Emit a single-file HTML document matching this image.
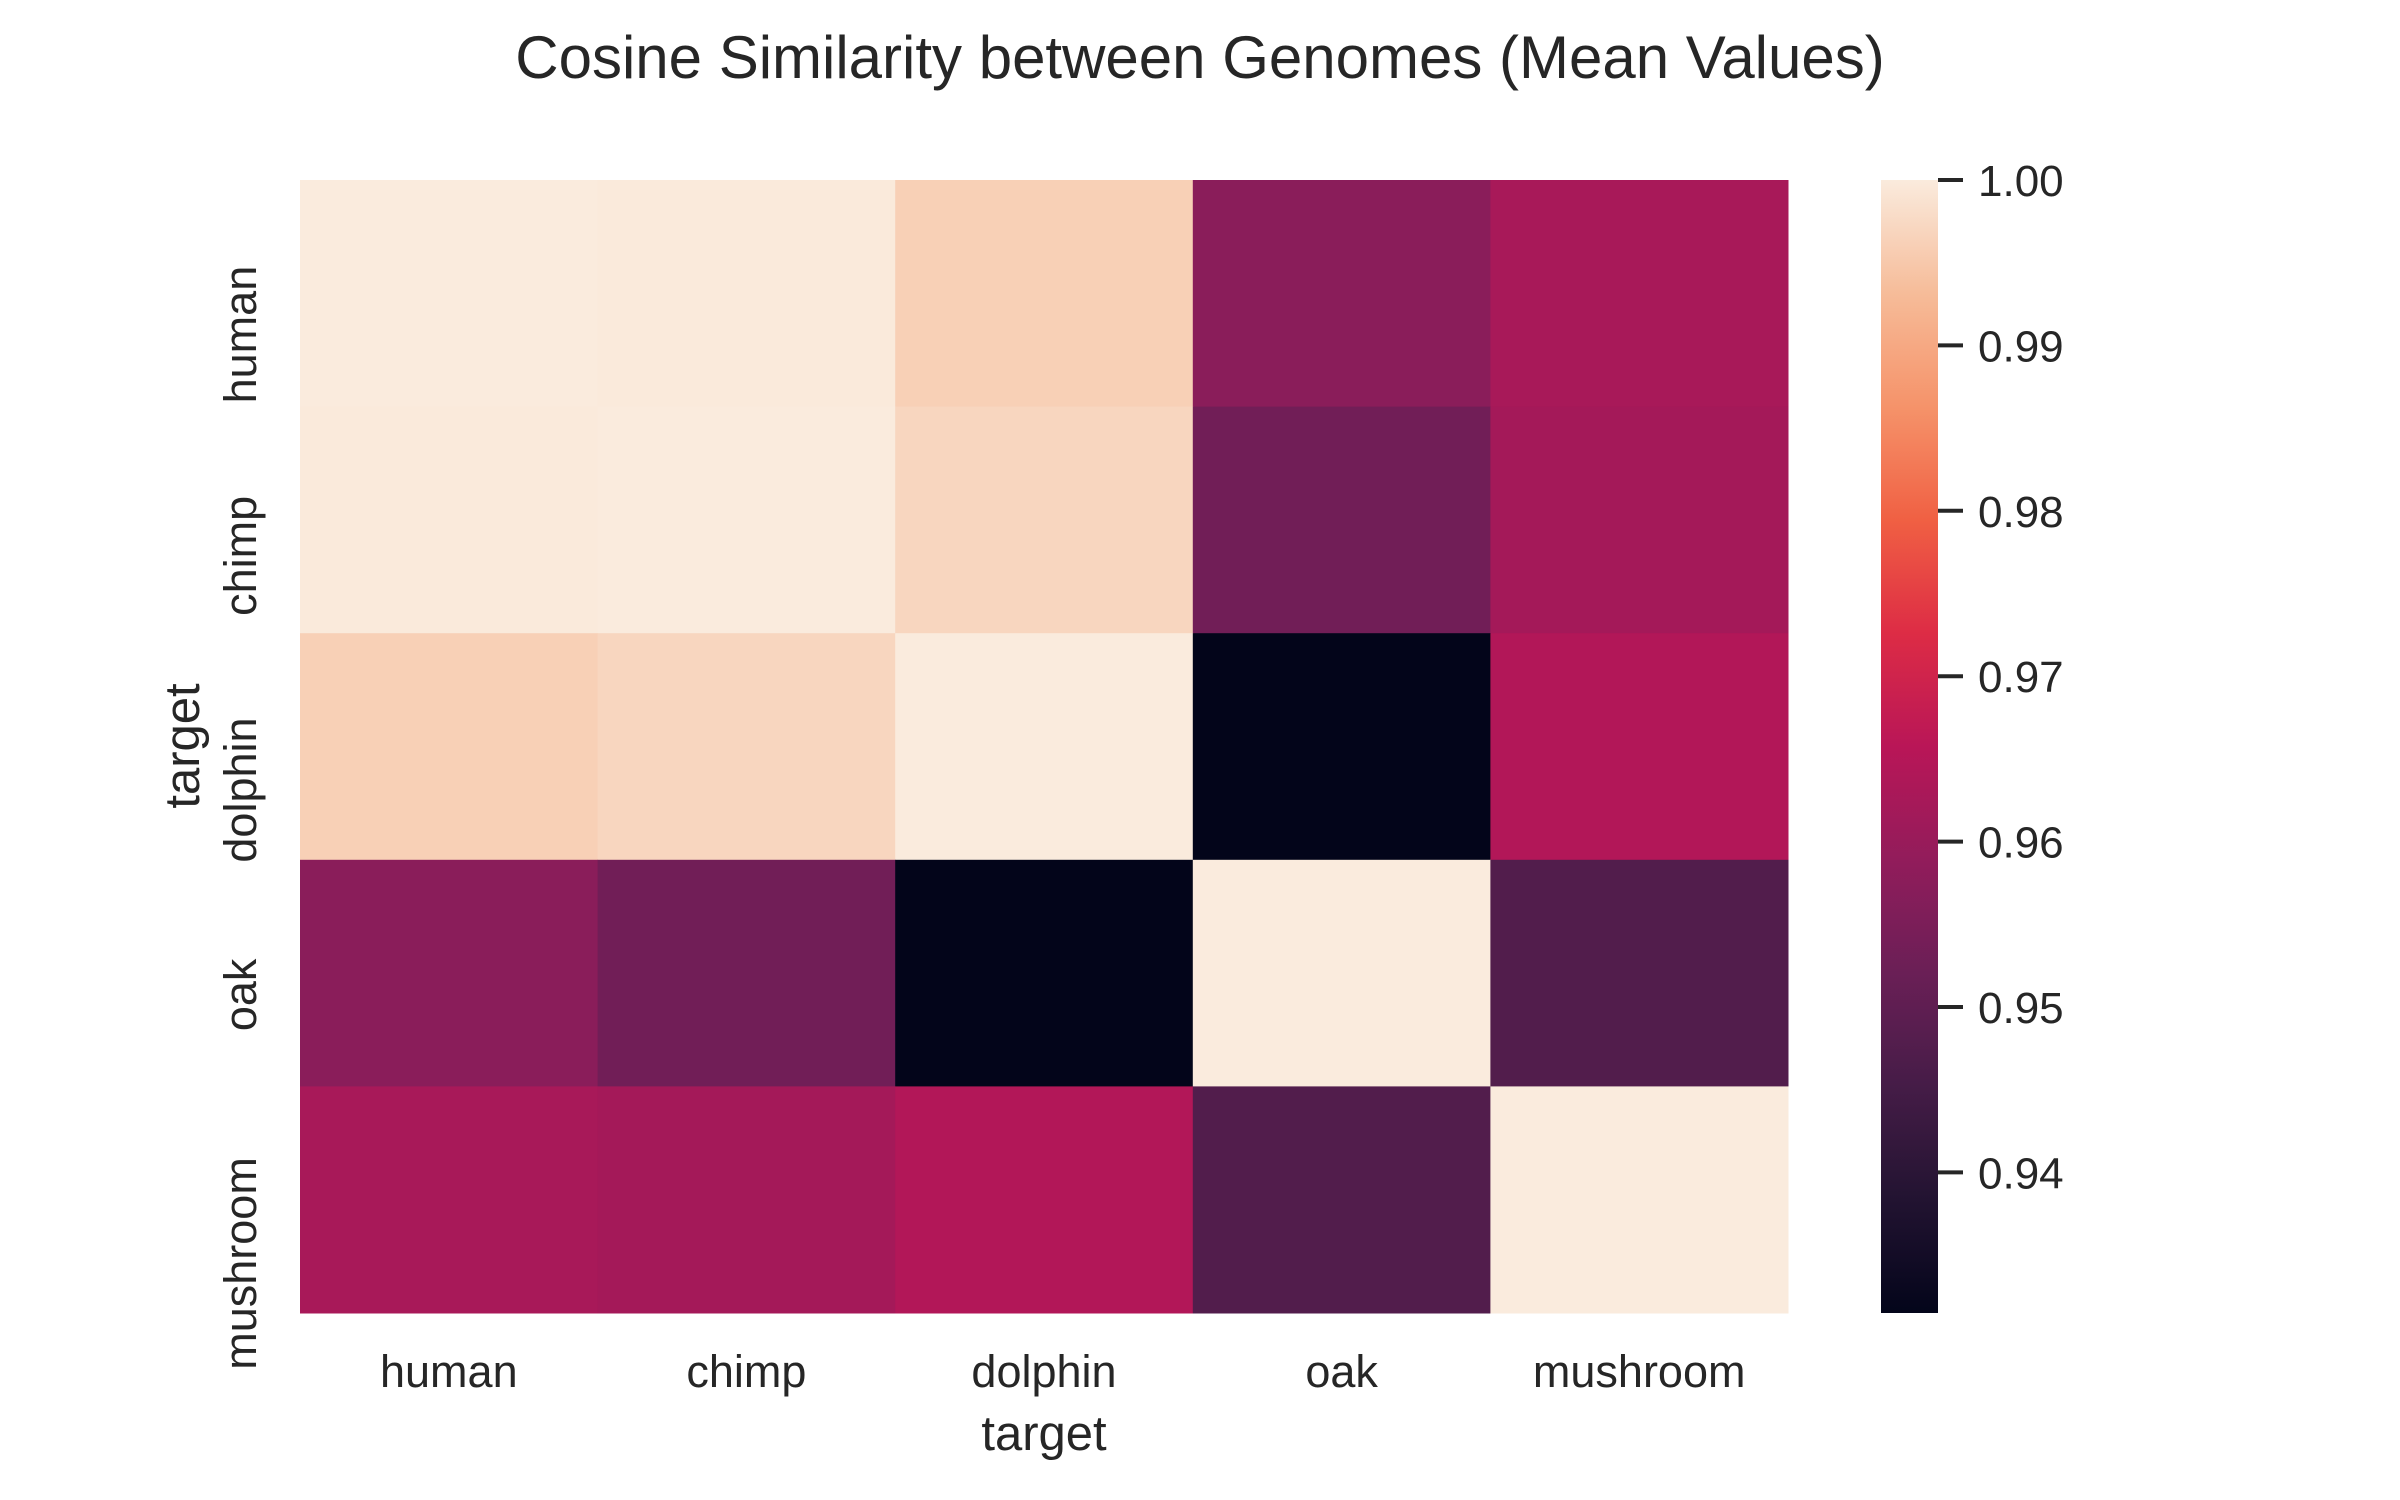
<!DOCTYPE html>
<html><head><meta charset="utf-8">
<style>
html,body{margin:0;padding:0;background:#fff;}
svg{display:block;font-family:"Liberation Sans","DejaVu Sans",sans-serif;}
</style></head>
<body>
<svg id="chart" width="2400" height="1500" viewBox="0 0 2400 1500">
<text x="1200" y="78" text-anchor="middle" font-size="60" fill="#262626">Cosine Similarity between Genomes (Mean Values)</text>
<g id="cells"></g>
<g id="xticks"></g>
<g id="yticks"></g>
<text x="1044" y="1450" text-anchor="middle" font-size="49" fill="#262626">target</text>
<text x="0" y="0" transform="translate(199,746) rotate(-90)" text-anchor="middle" font-size="49" fill="#262626">target</text>
<defs><linearGradient id="cbgrad" x1="0" y1="1" x2="0" y2="0"></linearGradient></defs>
<rect id="cbar" x="1881" y="180" width="57" height="1133" fill="url(#cbgrad)"></rect>
<g id="cbticks"></g>
</svg>
<script>
const categories = ["human","chimp","dolphin","oak","mushroom"];
const rowHuman    = [1.0000, 0.9998, 0.9961, 0.9575, 0.9628];
const rowChimp    = [0.9998, 1.0000, 0.9970, 0.9533, 0.9620];
const rowDolphin  = [0.9961, 0.9970, 1.0000, 0.9315, 0.9645];
const rowOak      = [0.9575, 0.9533, 0.9315, 1.0000, 0.9476];
const rowMushroom = [0.9628, 0.9620, 0.9645, 0.9476, 1.0000];
const colorbarTicks = [1.00, 0.99, 0.98, 0.97, 0.96, 0.95, 0.94];
const colorbarTickLabels = ["1.00","0.99","0.98","0.97","0.96","0.95","0.94"];

const matrix = [rowHuman,rowChimp,rowDolphin,rowOak,rowMushroom];
const NS="http://www.w3.org/2000/svg";
const L=300,R=1788,T=180,B=1313;
const allVals=[].concat(...matrix);
const vmin=Math.min(...allVals), vmax=Math.max(...allVals);
const cw=(R-L)/categories.length, ch=(B-T)/categories.length;
const xPos=i=>L+i*cw, yPos=i=>T+i*ch;
const cbY=v=>B-(v-vmin)/(vmax-vmin)*(B-T);
const stops=[[0,"#03051a"],[0.1,"#221331"],[0.2,"#451c47"],[0.3,"#6a1f56"],[0.4,"#921c5b"],[0.5,"#b91657"],[0.6,"#dd2c45"],[0.7,"#f06043"],[0.8,"#f5936a"],[0.9,"#f6bc99"],[1,"#faebdd"]];
function hex(h){return [1,3,5].map(i=>parseInt(h.substr(i,2),16));}
function cmap(t){t=Math.max(0,Math.min(1,t));
 for(let i=1;i<stops.length;i++){if(t<=stops[i][0]){const a=stops[i-1],b=stops[i];const f=(t-a[0])/(b[0]-a[0]);const ca=hex(a[1]),cb=hex(b[1]);
 return "rgb("+ca.map((c,k)=>Math.round(c+(cb[k]-c)*f)).join(",")+")";}}return stops[stops.length-1][1];}
const cells=document.getElementById('cells');
matrix.forEach((row,r)=>row.forEach((v,c)=>{
 const el=document.createElementNS(NS,'rect');
 el.setAttribute('x',xPos(c));el.setAttribute('y',yPos(r));
 el.setAttribute('width',cw+0.5);el.setAttribute('height',ch+0.5);
 el.setAttribute('fill',cmap((v-vmin)/(vmax-vmin)));
 
 
 cells.appendChild(el);
}));
const xt=document.getElementById('xticks'), yt=document.getElementById('yticks');
categories.forEach((c,i)=>{
 const t=document.createElementNS(NS,'text');
 t.setAttribute('x',xPos(i)+cw/2);t.setAttribute('y',1387);
 t.setAttribute('text-anchor','middle');t.setAttribute('font-size','45');t.setAttribute('fill','#262626');
 t.textContent=c;
 
 
 xt.appendChild(t);
 const u=document.createElementNS(NS,'text');
 u.setAttribute('text-anchor','middle');u.setAttribute('font-size','45');u.setAttribute('fill','#262626');
 u.textContent=c;
 
 
 yt.appendChild(u);
 const len=u.getComputedTextLength();
 const cy=yPos(i)+ch/2+0.3*len;
 u.setAttribute('transform','translate(256,'+cy+') rotate(-90)');
});
const g=document.getElementById('cbgrad');
for(let i=0;i<=20;i++){const s=document.createElementNS(NS,'stop');s.setAttribute('offset',i/20);s.setAttribute('stop-color',cmap(i/20));g.appendChild(s);}
const cbt=document.getElementById('cbticks');
colorbarTicks.forEach((v,i)=>{
 const y=cbY(v);
 const ln=document.createElementNS(NS,'line');
 ln.setAttribute('x1',1938);ln.setAttribute('x2',1963);ln.setAttribute('y1',y);ln.setAttribute('y2',y);
 ln.setAttribute('stroke','#262626');ln.setAttribute('stroke-width','4');
 
 
 cbt.appendChild(ln);
 const t=document.createElementNS(NS,'text');
 t.setAttribute('x',1978);t.setAttribute('y',y+16);t.setAttribute('font-size','44');t.setAttribute('fill','#262626');
 t.textContent=colorbarTickLabels[i];
 
 
 cbt.appendChild(t);
});
</script>
</body></html>
